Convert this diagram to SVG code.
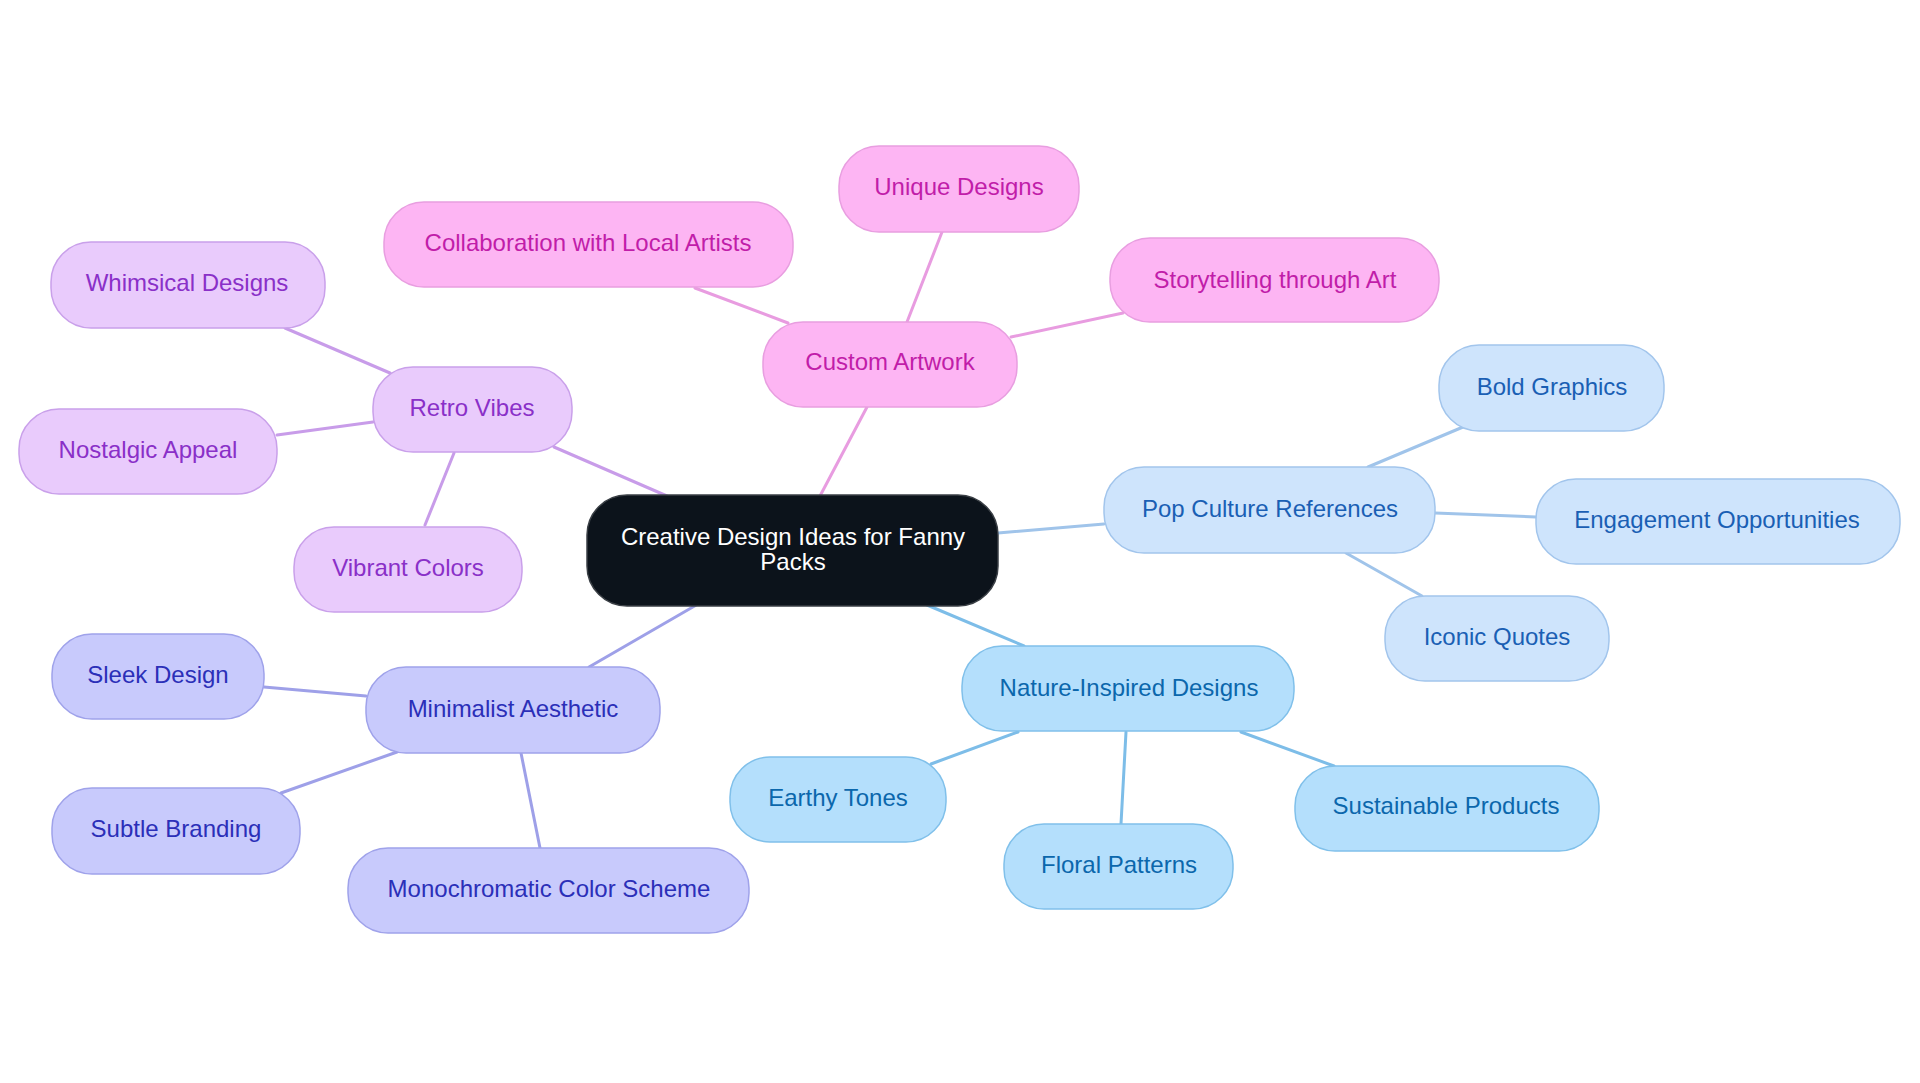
<svg xmlns="http://www.w3.org/2000/svg" width="1920" height="1083" viewBox="0 0 1920 1083">
<style>
text{font-family:"Liberation Sans",Arial,sans-serif;font-size:24px;text-anchor:middle}
.n rect{stroke-width:1.5}
.e line{stroke-width:3;stroke-linecap:round}
.pink rect{fill:#fdb5f3;stroke:#e89ee0}.pink text{fill:#c11da9}
.lav rect{fill:#e9cbfc;stroke:#c9a0ea}.lav text{fill:#8a30c8}
.per rect{fill:#c8cafc;stroke:#9fa2ea}.per text{fill:#2b2fb8}
.lb rect{fill:#b4dffc;stroke:#80c0ea}.lb text{fill:#0b67ac}
.pb rect{fill:#cee4fc;stroke:#a2c5ec}.pb text{fill:#1a5fb4}
</style>
<rect width="1920" height="1083" fill="#ffffff"/>
<g id="connectors" class="e">
<g stroke="#e89ce0">
<line x1="820" y1="496" x2="867" y2="407"/>
<line x1="907" y1="322" x2="942" y2="232"/>
<line x1="788" y1="323" x2="695" y2="288"/>
<line x1="1011" y1="337" x2="1123" y2="313"/>
</g>
<g stroke="#c89ce9">
<line x1="667" y1="496" x2="554" y2="447"/>
<line x1="285" y1="328" x2="390" y2="373"/>
<line x1="277" y1="435" x2="373" y2="422"/>
<line x1="425" y1="525" x2="454" y2="453"/>
</g>
<g stroke="#9ea0e8">
<line x1="698" y1="604" x2="589" y2="667"/>
<line x1="264" y1="687" x2="366" y2="696"/>
<line x1="281" y1="793" x2="397" y2="752"/>
<line x1="540" y1="848" x2="521" y2="753"/>
</g>
<g stroke="#7dbde8">
<line x1="927" y1="605" x2="1024" y2="646"/>
<line x1="1018" y1="732" x2="931" y2="764"/>
<line x1="1126" y1="732" x2="1121" y2="824"/>
<line x1="1241" y1="732" x2="1334" y2="766"/>
</g>
<g stroke="#a0c4ea">
<line x1="998" y1="533" x2="1104" y2="524"/>
<line x1="1368" y1="467" x2="1463" y2="427"/>
<line x1="1435" y1="513" x2="1536" y2="517"/>
<line x1="1346" y1="553" x2="1422" y2="596"/>
</g>
</g>
<g id="central" class="n">
<rect x="587" y="495" width="411" height="111" rx="40" fill="#0c131b" stroke="#3a3f45"/>
<text x="793" y="545" fill="#ffffff">Creative Design Ideas for Fanny</text>
<text x="793" y="570" fill="#ffffff">Packs</text>
</g>
<g id="custom-artwork" class="n pink"><rect x="763" y="322" width="254" height="85" rx="40"/><text x="890" y="370">Custom Artwork</text></g>
<g id="unique-designs" class="n pink"><rect x="839" y="146" width="240" height="86" rx="40"/><text x="959" y="195">Unique Designs</text></g>
<g id="collaboration" class="n pink"><rect x="384" y="202" width="409" height="85" rx="40"/><text x="588" y="251">Collaboration with Local Artists</text></g>
<g id="storytelling" class="n pink"><rect x="1110" y="238" width="329" height="84" rx="40"/><text x="1275" y="288">Storytelling through Art</text></g>
<g id="retro-vibes" class="n lav"><rect x="373" y="367" width="199" height="85" rx="40"/><text x="472" y="416">Retro Vibes</text></g>
<g id="whimsical" class="n lav"><rect x="51" y="242" width="274" height="86" rx="40"/><text x="187" y="291">Whimsical Designs</text></g>
<g id="nostalgic" class="n lav"><rect x="19" y="409" width="258" height="85" rx="40"/><text x="148" y="458">Nostalgic Appeal</text></g>
<g id="vibrant" class="n lav"><rect x="294" y="527" width="228" height="85" rx="40"/><text x="408" y="576">Vibrant Colors</text></g>
<g id="minimalist" class="n per"><rect x="366" y="667" width="294" height="86" rx="40"/><text x="513" y="717">Minimalist Aesthetic</text></g>
<g id="sleek" class="n per"><rect x="52" y="634" width="212" height="85" rx="40"/><text x="158" y="683">Sleek Design</text></g>
<g id="subtle" class="n per"><rect x="52" y="788" width="248" height="86" rx="40"/><text x="176" y="837">Subtle Branding</text></g>
<g id="monochromatic" class="n per"><rect x="348" y="848" width="401" height="85" rx="40"/><text x="549" y="897">Monochromatic Color Scheme</text></g>
<g id="nature" class="n lb"><rect x="962" y="646" width="332" height="85" rx="40"/><text x="1129" y="696">Nature-Inspired Designs</text></g>
<g id="earthy" class="n lb"><rect x="730" y="757" width="216" height="85" rx="40"/><text x="838" y="806">Earthy Tones</text></g>
<g id="floral" class="n lb"><rect x="1004" y="824" width="229" height="85" rx="40"/><text x="1119" y="873">Floral Patterns</text></g>
<g id="sustainable" class="n lb"><rect x="1295" y="766" width="304" height="85" rx="40"/><text x="1446" y="814">Sustainable Products</text></g>
<g id="pop-culture" class="n pb"><rect x="1104" y="467" width="331" height="86" rx="40"/><text x="1270" y="517">Pop Culture References</text></g>
<g id="bold-graphics" class="n pb"><rect x="1439" y="345" width="225" height="86" rx="40"/><text x="1552" y="395">Bold Graphics</text></g>
<g id="engagement" class="n pb"><rect x="1536" y="479" width="364" height="85" rx="40"/><text x="1717" y="528">Engagement Opportunities</text></g>
<g id="iconic" class="n pb"><rect x="1385" y="596" width="224" height="85" rx="40"/><text x="1497" y="645">Iconic Quotes</text></g>
</svg>
